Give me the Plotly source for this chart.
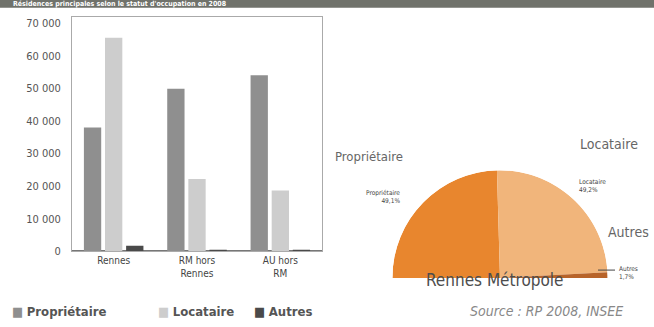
import plotly.graph_objects as go

# Résidences principales par statut d'occupation (2008)
categories = ["Rennes", "RM hors<br>Rennes", "AU hors<br>RM"]
series_names = ["Propriétaire", "Locataire", "Autres"]
proprietaire = [38000, 49900, 54000]
locataire = [65500, 22200, 18700]
autres = [1800, 500, 500]
y_ticks = [0, 10000, 20000, 30000, 40000, 50000, 60000, 70000]

# Répartition pour Rennes Métropole (%)
pie_labels = ["Propriétaire", "Locataire", "Autres"]
pie_values = [49.1, 49.2, 1.7]

bar_colors = ["#8f8f8f", "#cdcdcd", "#4a4a4a"]
pie_colors = ["#e8862e", "#f1b57b", "#b8642a"]
narrow = "Liberation Sans Narrow, DejaVu Sans Condensed, Arial Narrow, sans-serif"

fig = go.Figure()

for name, vals, col in zip(series_names, [proprietaire, locataire, autres], bar_colors):
    fig.add_trace(go.Bar(x=categories, y=vals, name=name, marker_color=col,
                         marker_line_width=0, showlegend=False,
                         xaxis="x", yaxis="y"))

# Demi-camembert dessiné en barpolar sur un secteur de 180°
widths = [v / sum(pie_values) * 180 for v in pie_values]
thetas = []
start = 180
for w in widths:
    thetas.append(start - w / 2)
    start -= w
fig.add_trace(go.Barpolar(r=[1] * len(pie_values), theta=thetas, width=widths,
                          marker_color=pie_colors, marker_line_width=0,
                          showlegend=False, subplot="polar"))

fig.update_layout(
    width=654, height=327,
    margin=dict(l=0, r=0, t=0, b=0),
    paper_bgcolor="white", plot_bgcolor="white",
    separators=", ",
    barmode="group", bargap=0.24, bargroupgap=0.18,
    font=dict(family=narrow, color="#555"),
    xaxis=dict(domain=[72 / 654, 322 / 654], showline=True, mirror=True,
               linecolor="#aaaaaa", linewidth=1, ticks="",
               tickfont=dict(size=10, color="#444")),
    yaxis=dict(domain=[70 / 327, 310 / 327], range=[0, 72000], showline=True,
               mirror=True, linecolor="#aaaaaa", linewidth=1,
               showgrid=False, zeroline=True, zerolinecolor="#777",
               tickvals=y_ticks, tickformat=",d", ticks="",
               ticklabelstandoff=8, tickfont=dict(size=11, color="#555")),
    polar=dict(domain=dict(x=[389 / 654, 611 / 654], y=[43 / 327, 153 / 327]),
               sector=[0, 180], bgcolor="rgba(0,0,0,0)", hole=0,
               radialaxis=dict(visible=False, range=[0, 1]),
               angularaxis=dict(visible=False, rotation=0,
                                direction="counterclockwise")),
)

# Bandeau de titre
fig.add_shape(type="rect", xref="paper", yref="paper", x0=0, x1=1,
              y0=1 - 8 / 327, y1=1, fillcolor="#70726b", line_width=0)
fig.add_annotation(xref="paper", yref="paper", x=12 / 654, y=1 - 4 / 327,
                   xanchor="left", yanchor="middle", showarrow=False,
                   borderpad=0,
                   text="<b>Résidences principales selon le statut d'occupation en 2008</b>",
                   font=dict(family=narrow, size=7, color="white"))

# Légende du graphique en barres
leg_x = [10, 156, 252]
for name, col, lx in zip(series_names, bar_colors, leg_x):
    fig.add_annotation(xref="paper", yref="paper", x=lx / 654, y=9 / 327,
                       xanchor="left", yanchor="middle", showarrow=False,
                       text=f"<span style='color:{col}'>■</span> <b>{name}</b>",
                       font=dict(family=narrow, size=13, color="#555"))

fig.add_annotation(xref="paper", yref="paper", x=468 / 654, y=9 / 327,
                   xanchor="left", yanchor="middle", showarrow=False,
                   text="<i>Source : RP 2008, INSEE</i>",
                   font=dict(family=narrow, size=14, color="#888"))

# Titres et étiquettes du demi-camembert
big_pos = [(333, 160, "left", 13), (578, 147, "left", 14), (606, 237, "left", 14)]
for lab, (px, py, anc, fs) in zip(pie_labels, big_pos):
    fig.add_annotation(xref="paper", yref="paper", x=px / 654, y=1 - py / 327,
                       xanchor=anc, yanchor="middle", showarrow=False,
                       text=lab, font=dict(family=narrow, size=fs, color="#666"))

small_pos = [(402, 201, "right"), (577, 190, "left"), (617, 279, "left")]
for lab, val, (px, py, anc) in zip(pie_labels, pie_values, small_pos):
    pct = f"{val:.1f}".replace(".", ",") + "%"
    fig.add_annotation(xref="paper", yref="paper", x=px / 654, y=1 - py / 327,
                       xanchor=anc, yanchor="middle", align=anc, showarrow=False,
                       text=f"{lab}<br>{pct}",
                       font=dict(family=narrow, size=6.5, color="#444"))

fig.add_shape(type="line", xref="paper", yref="paper",
              x0=598 / 654, x1=615 / 654, y0=1 - 276 / 327, y1=1 - 276 / 327,
              line=dict(color="#444", width=1))

fig.add_annotation(xref="paper", yref="paper", x=495 / 654, y=1 - 286 / 327,
                   xanchor="center", yanchor="middle", showarrow=False,
                   text="Rennes Métropole",
                   font=dict(family=narrow, size=17, color="#4d4d4d"))

fig.write_html("out.html")
